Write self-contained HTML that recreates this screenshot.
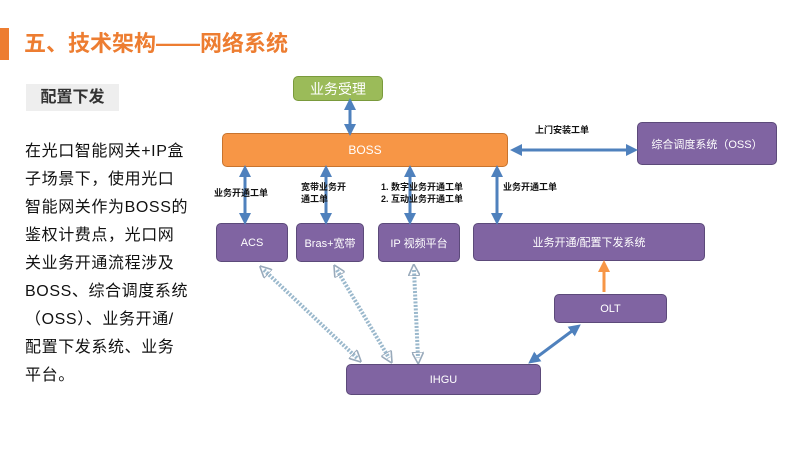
<!DOCTYPE html><html><head><meta charset="utf-8"><style>
body{margin:0;width:800px;height:450px;background:#fff;position:relative;overflow:hidden;font-family:"Liberation Sans","Noto Sans CJK SC",sans-serif}
.a{position:absolute}
.b{position:absolute;border-radius:5px;color:#fff;display:flex;align-items:center;justify-content:center;font-size:11px;box-sizing:border-box}
.p{background:#8064a2;border:1px solid #5c4a7a}
.l{position:absolute;font-size:9px;font-weight:bold;color:#111;line-height:12px}
</style></head><body>
<div class="a" style="left:0;top:28px;width:9px;height:32px;background:#ed7d31"></div>
<div class="a" style="left:24px;top:28px;font-size:22px;font-weight:bold;color:#ed7d31;line-height:32px">五、技术架构——网络系统</div>
<div class="a" style="left:26px;top:84px;width:93px;height:27px;background:#eeeeee;font-size:16px;font-weight:bold;color:#333;line-height:27px;text-align:center">配置下发</div>
<div class="a" style="left:25px;top:138px;white-space:nowrap;font-size:16px;letter-spacing:0.6px;line-height:28px;color:#111">在光口智能网关+IP盒<br>子场景下，使用光口<br>智能网关作为BOSS的<br>鉴权计费点，光口网<br>关业务开通流程涉及<br>BOSS、综合调度系统<br>（OSS）、业务开通/<br>配置下发系统、业务<br>平台。</div>
<div class="b" style="left:293px;top:76px;width:90px;height:25px;background:#9bbb59;border:1px solid #7a9a3c;font-size:14px">业务受理</div>
<div class="b" style="left:222px;top:133px;width:286px;height:34px;background:#f79646;border:1px solid #c8742e;font-size:12px">BOSS</div>
<div class="b p" style="left:637px;top:122px;width:140px;height:43px">综合调度系统（OSS）</div>
<div class="b p" style="left:216px;top:223px;width:72px;height:39px">ACS</div>
<div class="b p" style="left:296px;top:223px;width:68px;height:39px">Bras+宽带</div>
<div class="b p" style="left:378px;top:223px;width:82px;height:39px">IP 视频平台</div>
<div class="b p" style="left:473px;top:223px;width:232px;height:38px">业务开通/配置下发系统</div>
<div class="b p" style="left:554px;top:294px;width:113px;height:29px">OLT</div>
<div class="b p" style="left:346px;top:364px;width:195px;height:31px">IHGU</div>
<svg class="a" style="left:0;top:0" width="800" height="450">
<defs>
<marker id="m" markerWidth="4" markerHeight="4" refX="2" refY="2" orient="auto-start-reverse"><path d="M0,0L4,2L0,4z" fill="#4f81bd"/></marker>
<marker id="o" markerWidth="4" markerHeight="4" refX="2" refY="2" orient="auto"><path d="M0,0L4,2L0,4z" fill="#f79646"/></marker>
<marker id="d" markerWidth="3" markerHeight="3" refX="1.5" refY="1.5" orient="auto-start-reverse"><path d="M0,0L3,1.5L0,3z" fill="none" stroke="#9ab" stroke-width="0.4"/></marker>
</defs>
<g stroke="#4f81bd" stroke-width="3" marker-start="url(#m)" marker-end="url(#m)">
<line x1="350" y1="104" x2="350" y2="130"/>
<line x1="245" y1="171" x2="245" y2="219"/>
<line x1="326" y1="171" x2="326" y2="219"/>
<line x1="410" y1="171" x2="410" y2="219"/>
<line x1="497" y1="171" x2="497" y2="219"/>
<line x1="516" y1="150" x2="632" y2="150"/>
<line x1="533" y1="360" x2="576" y2="328"/>
</g>
<line x1="604" y1="292" x2="604" y2="266" stroke="#f79646" stroke-width="3" marker-end="url(#o)"/>
<g stroke="#9ab8cc" stroke-width="4" stroke-dasharray="2 1.5" marker-start="url(#d)" marker-end="url(#d)">
<line x1="264" y1="270" x2="357" y2="358"/>
<line x1="337" y1="270" x2="389" y2="358"/>
<line x1="414" y1="270" x2="418" y2="358"/>
</g>
</svg>
<div class="l" style="left:535px;top:124px">上门安装工单</div>
<div class="l" style="left:214px;top:187px">业务开通工单</div>
<div class="l" style="left:301px;top:181px">宽带业务开<br>通工单</div>
<div class="l" style="left:381px;top:181px">1. 数字业务开通工单<br>2. 互动业务开通工单</div>
<div class="l" style="left:503px;top:181px">业务开通工单</div>
</body></html>
